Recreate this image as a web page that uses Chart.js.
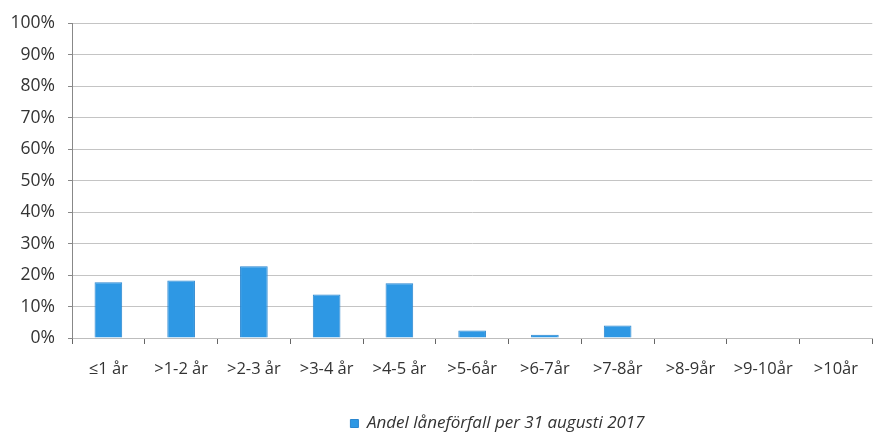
<!DOCTYPE html>
<html>
<head>
<meta charset="utf-8">
<script src="https://cdn.jsdelivr.net/npm/chart.js@4"></script>
<style>
  html, body { margin: 0; padding: 0; background: #fff; }
  #wrap { width: 873px; height: 432px; }
</style>
</head>
<body>
<div id="wrap"><canvas id="c" width="873" height="432"></canvas></div>
<script>
// Maturity buckets and share of loans maturing in each (percent)
const categories = ['≤1 år', '>1-2 år', '>2-3 år', '>3-4 år', '>4-5 år', '>5-6år', '>6-7år', '>7-8år', '>8-9år', '>9-10år', '>10år'];
const shares = [17.7, 18.3, 22.8, 13.8, 17.4, 2.4, 1.0, 4.0, 0, 0, 0];
const seriesLabel = 'Andel låneförfall per 31 augusti 2017';
const yTicks = [0, 10, 20, 30, 40, 50, 60, 70, 80, 90, 100];

const FONT = '"Open Sans", Lato, sans-serif';

// Nudges the legend row to the right of the canvas centre
const legendShift = {
  id: 'legendShift',
  afterLayout(chart, args, opts) {
    const lg = chart.legend;
    if (!lg) return;
    lg.left += opts.dx;
    lg.right += opts.dx;
  }
};

new Chart(document.getElementById('c'), {
  type: 'bar',
  data: {
    labels: categories,
    datasets: [{
      label: seriesLabel,
      data: shares,
      backgroundColor: '#2e98e4',
      borderColor: '#2a86cf',
      borderWidth: 1,
      barPercentage: 0.38,
      categoryPercentage: 1.0
    }]
  },
  plugins: [legendShift],
  options: {
    responsive: false,
    animation: false,
    // the plot runs slightly past the right edge; the legend sits close to the bottom
    layout: { padding: { left: 0, right: -6, top: 8.5, bottom: -10 } },
    plugins: {
      tooltip: { enabled: false },
      legendShift: { dx: 58 },
      legend: {
        position: 'bottom',
        labels: {
          boxWidth: 8,
          boxHeight: 8,
          padding: 4,
          color: '#333',
          font: { family: FONT, size: 17, style: 'italic', lineHeight: 1 }
        }
      }
    },
    scales: {
      x: {
        grid: {
          offset: true,
          drawOnChartArea: false,
          tickLength: 6,
          tickColor: '#666'
        },
        border: { color: '#bdbdbd', width: 1 },
        ticks: {
          color: '#333',
          padding: 15,
          maxRotation: 0,
          autoSkip: false,
          font: { family: FONT, size: 16.5 }
        },
        afterFit(scale) { scale.height = 73; }
      },
      y: {
        min: 0,
        max: 100,
        afterBuildTicks(scale) { scale.ticks = yTicks.map(v => ({ value: v })); },
        grid: {
          color: '#c4c4c4',
          tickLength: 4,
          tickColor: '#888'
        },
        border: { color: '#888', width: 1 },
        ticks: {
          color: '#333',
          padding: 13,
          font: { family: FONT, size: 17.5 },
          callback: v => v + '%'
        },
        afterFit(scale) { scale.width = 72; }
      }
    }
  }
});
</script>
</body>
</html>
